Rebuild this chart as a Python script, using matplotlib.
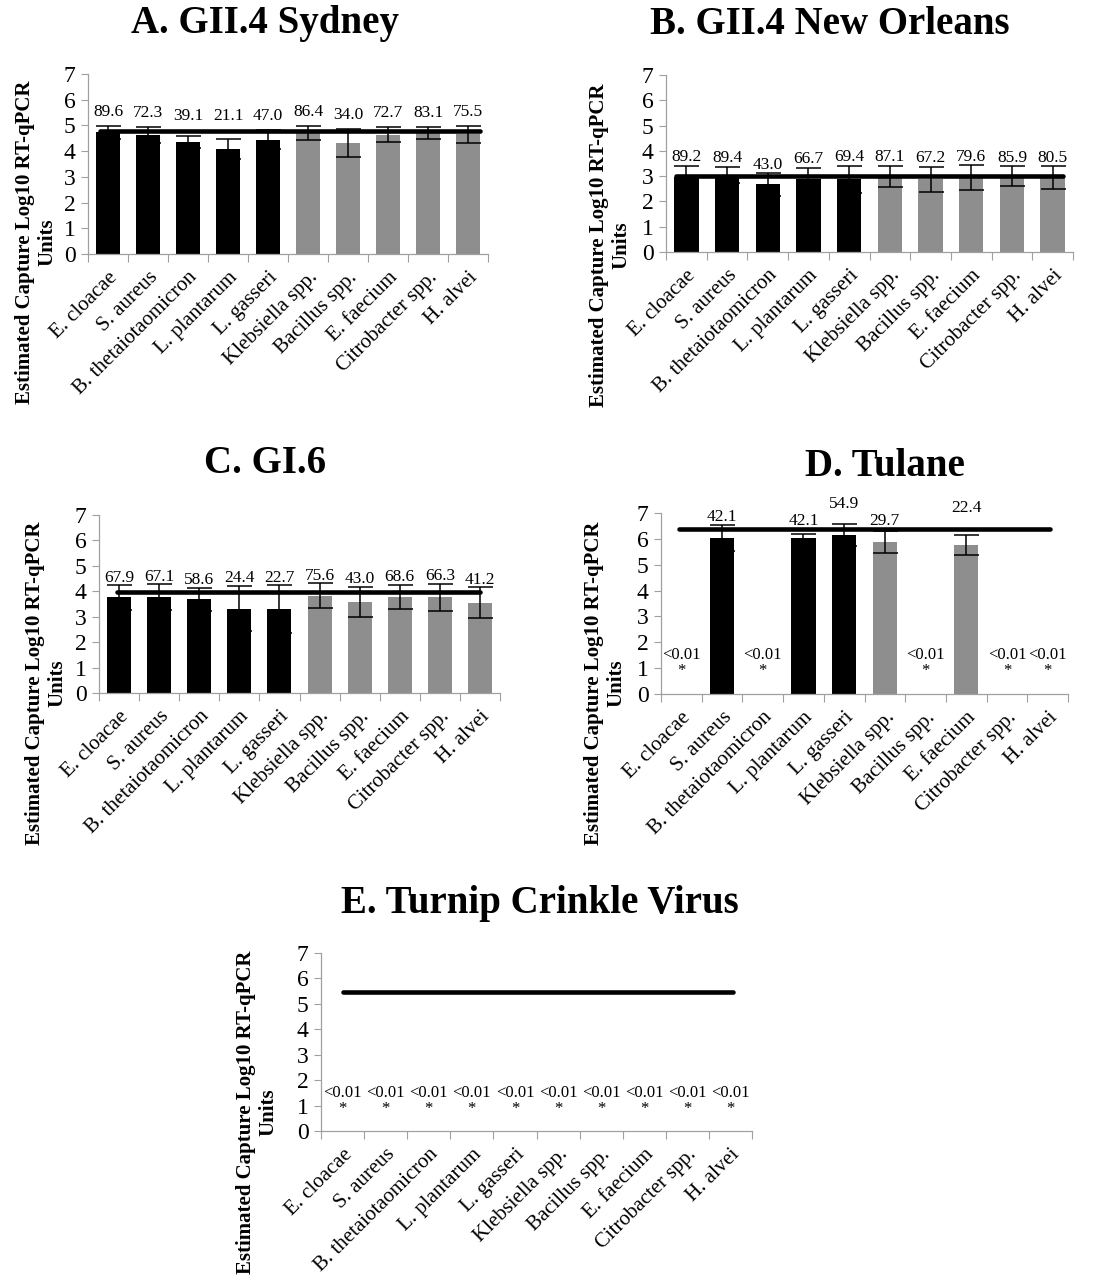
import numpy as np
import matplotlib
matplotlib.use("Agg")
import matplotlib.pyplot as plt

plt.rcParams['font.family'] = ['Liberation Serif', 'DejaVu Serif']

strains = ['E. cloacae', 'S. aureus', 'B. thetaiotaomicron', 'L. plantarum', 'L. gasseri',
           'Klebsiella spp.', 'Bacillus spp.', 'E. faecium', 'Citrobacter spp.', 'H. alvei']
# first five strains black, rest gray
strain_group = [0, 0, 0, 0, 0, 1, 1, 1, 1, 1]

# A. GII.4 Sydney
a_vals = [4.73, 4.63, 4.36, 4.10, 4.45, 4.71, 4.31, 4.64, 4.71, 4.66]
a_err = [0.26, 0.30, 0.24, 0.39, 0.38, 0.26, 0.55, 0.29, 0.23, 0.33]
a_pct = ['89.6', '72.3', '39.1', '21.1', '47.0', '86.4', '34.0', '72.7', '83.1', '75.5']
a_ctrl = 4.80

# B. GII.4 New Orleans
b_vals = [2.97, 3.04, 2.67, 2.87, 2.88, 3.00, 2.87, 2.95, 3.00, 2.95]
b_err = [0.44, 0.33, 0.46, 0.47, 0.53, 0.42, 0.51, 0.48, 0.40, 0.45]
b_pct = ['89.2', '89.4', '43.0', '66.7', '69.4', '87.1', '67.2', '79.6', '85.9', '80.5']
b_ctrl = 3.01

# C. GI.6
c_vals = [3.76, 3.76, 3.69, 3.32, 3.29, 3.83, 3.57, 3.77, 3.76, 3.55]
c_err = [0.48, 0.51, 0.45, 0.90, 0.95, 0.48, 0.60, 0.48, 0.54, 0.60]
c_pct = ['67.9', '67.1', '58.6', '24.4', '22.7', '75.6', '43.0', '68.6', '66.3', '41.2']
c_ctrl = 3.98

# D. Tulane
d_vals = [0, 6.04, 0, 6.04, 6.14, 5.88, 0, 5.75, 0, 0]
d_err = [0, 0.51, 0, 0.16, 0.42, 0.42, 0, 0.38, 0, 0]
d_pct = ['<0.01', '42.1', '<0.01', '42.1', '54.9', '29.7', '<0.01', '22.4', '<0.01', '<0.01']
d_ctrl = 6.40

# E. Turnip Crinkle Virus
e_vals = [0] * 10
e_err = [0] * 10
e_pct = ['<0.01'] * 10
e_ctrl = 5.45

W, H = 1111, 1287
fig = plt.figure(figsize=(W / 100, H / 100), dpi=100)


def px_axes(l, r, t, b):
    return fig.add_axes([l / W, 1 - b / H, (r - l) / W, (b - t) / H])


def panel(box, title, title_xy, ylab_xy, vals, err, pct, ctrl, ctrl_span, lab_off, raise_idx=()):
    ax = px_axes(*box)
    x = np.arange(len(strains))
    colors = ['black' if g == 0 else '#8e8e8e' for g in strain_group]
    ax.bar(x, vals, width=0.6, color=colors, zorder=2)
    has_err = [i for i, e in enumerate(err) if e > 0]
    ax.errorbar(x[has_err], np.array(vals)[has_err], yerr=np.array(err)[has_err], fmt='none',
                ecolor='black', elinewidth=1.1, capsize=9, capthick=1.1, zorder=3)
    ax.plot(ctrl_span, [ctrl, ctrl], color='black', lw=3.3, solid_capstyle='round', zorder=4)
    for i, p in enumerate(pct):
        if p == '<0.01':
            ax.text(i, 1.5, p, ha='center', va='center', fontsize=12)
            ax.text(i, 0.88, '*', ha='center', va='center', fontsize=12)
        else:
            top = max(vals[i] + err[i], ctrl) + lab_off
            if i in raise_idx:
                top += 0.5
            ax.text(i, top, p, ha='center', va='center', fontsize=12.5, clip_on=False)
    ax.set_ylim(0, 7)
    ax.set_xlim(-0.5, len(strains) - 0.5)
    ax.set_yticks(range(8))
    ax.tick_params(axis='y', labelsize=17, length=5, width=0.8, color='#a0a0a0', pad=4)
    ax.set_xticks(x)
    ax.set_xticklabels(strains, rotation=45, ha='right', va='top', rotation_mode='anchor', fontsize=15)
    ax.tick_params(axis='x', which='major', length=0, pad=10)
    ax.set_xticks(np.arange(-0.5, len(strains)), minor=True)
    ax.tick_params(axis='x', which='minor', length=6, width=0.8, color='#a0a0a0')
    for s in ['top', 'right']:
        ax.spines[s].set_visible(False)
    for s in ['left', 'bottom']:
        ax.spines[s].set_color('#a0a0a0')
        ax.spines[s].set_linewidth(0.9)
    fig.text(title_xy[0] / W, 1 - title_xy[1] / H, title, ha='center', va='center',
             fontsize=28, fontweight='bold')
    fig.text(ylab_xy[0] / W, 1 - ylab_xy[1] / H, 'Estimated Capture Log10 RT-qPCR\nUnits',
             ha='center', va='center', rotation=90, fontsize=15, fontweight='bold',
             multialignment='center', linespacing=1.15)
    return ax


panel((88, 488, 74, 254), 'A. GII.4 Sydney', (265, 24), (36, 242),
      a_vals, a_err, a_pct, a_ctrl, [-0.2, 9.3], 0.55)
panel((666, 1073, 75, 252), 'B. GII.4 New Orleans', (830, 24), (610, 245),
      b_vals, b_err, b_pct, b_ctrl, [-0.25, 9.25], 0.33)
panel((99, 500, 515, 693), 'C. GI.6', (265, 464), (46, 683),
      c_vals, c_err, c_pct, c_ctrl, [-0.05, 9.0], 0.3)
panel((661, 1068, 513, 694), 'D. Tulane', (885, 466), (605, 683),
      d_vals, d_err, d_pct, d_ctrl, [-0.05, 9.05], 0.3, raise_idx=(4, 7))
panel((321, 752, 953, 1131), 'E. Turnip Crinkle Virus', (540, 903), (257, 1112),
      e_vals, e_err, e_pct, e_ctrl, [0.0, 9.05], 0.3)

fig.savefig('out.png', dpi=100)
